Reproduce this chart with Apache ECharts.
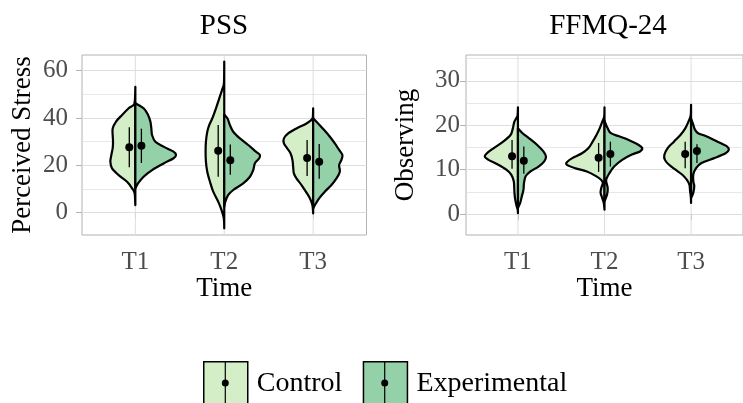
<!DOCTYPE html>
<html>
<head>
<meta charset="utf-8">
<script src="https://cdn.jsdelivr.net/npm/echarts@6/dist/echarts.min.js"></script>
<style>html,body{margin:0;padding:0;background:#fff;}#c{width:743px;height:403px;}</style>
</head>
<body>
<div id="c"></div>
<script>
// ---------- DATA ----------
const times = ['T1', 'T2', 'T3'];
const groups = ['Control', 'Experimental'];
const panelTitles = ['PSS', 'FFMQ-24'];
const yNames = ['Perceived Stress', 'Observing'];
const pssTicks = [0, 20, 40, 60];
const pssMinor = [10, 30, 50];
const ffmqTicks = [0, 10, 20, 30];
const ffmqMinor = [5, 15, 25, 35];

// violin half profiles: [value, half-width in category units]
const pssControlViolin = [
  [[3.2,0],[8.2,0.008],[10.3,0.037],[13.1,0.093],[15.9,0.188],[18.7,0.262],[21.5,0.281],[24.4,0.270],[27.2,0.255],[30,0.251],[32.8,0.255],[35.6,0.255],[38.5,0.217],[41.3,0.149],[44.1,0.075],[46.2,0.01],[53.2,0]],
  [[-6.6,0],[-2.4,0.005],[1.1,0.030],[4.6,0.067],[8.9,0.124],[13.1,0.161],[17.3,0.191],[21.5,0.206],[25.8,0.210],[30,0.206],[34.2,0.191],[37,0.169],[39.8,0.135],[44.1,0.093],[48.3,0.056],[52.5,0.019],[55,0.003],[63.8,0]],
  [[-0.3,0],[3.2,0.008],[6.1,0.037],[8.9,0.082],[11.7,0.131],[14.5,0.188],[16.6,0.217],[19.4,0.225],[22.3,0.233],[25.1,0.255],[27.2,0.292],[29.3,0.329],[31.4,0.329],[33.5,0.281],[35.6,0.188],[37.7,0.075],[39.9,0.005],[44.1,0]]
];
const pssExperimentalViolin = [
  [[10.3,0],[12.4,0.030],[15.2,0.093],[18,0.188],[20.8,0.318],[23,0.430],[24.4,0.457],[25.8,0.430],[27.9,0.318],[30,0.225],[32.8,0.188],[35.6,0.180],[38.5,0.169],[41.3,0.143],[44.1,0.093],[46.2,0]],
  [[2.5,0],[4.6,0.011],[7.5,0.045],[9.6,0.101],[12.4,0.213],[15.2,0.289],[18,0.326],[20.9,0.345],[23,0.393],[24.4,0.401],[25.8,0.356],[28.6,0.270],[31.4,0.176],[34.2,0.101],[37,0.064],[39.8,0.037],[41.5,0]],
  [[1.8,0],[3.2,0.019],[6.1,0.067],[8.9,0.131],[11.7,0.206],[14.5,0.262],[17.3,0.300],[20.1,0.292],[22.3,0.318],[24.4,0.329],[26.5,0.292],[29.3,0.244],[32.1,0.188],[34.9,0.124],[37.7,0.056],[39.9,0]]
];
const ffmqControlViolin = [
  [[0.2,0],[1.0,0.003],[2.1,0.019],[3.6,0.034],[5.1,0.041],[7.4,0.048],[8.9,0.078],[10,0.134],[11.1,0.227],[12.2,0.339],[12.9,0.383],[13.7,0.358],[14.8,0.283],[16.3,0.171],[17.8,0.086],[19.3,0.059],[20.8,0.041],[22.2,0.005],[24,0]],
  [[1.0,0],[2.5,0.008],[3.6,0.026],[4.8,0.045],[5.9,0.037],[7.0,0.019],[7.7,0.037],[8.5,0.093],[9.6,0.204],[10.3,0.335],[11.1,0.436],[11.8,0.428],[12.6,0.372],[13.7,0.260],[14.8,0.187],[16.3,0.137],[17.8,0.093],[19.3,0.056],[20.8,0.026],[22,0.003],[24,0]],
  [[2.5,0],[4,0.003],[5.1,0.011],[6.6,0.019],[7.7,0.048],[8.9,0.104],[10,0.179],[11.1,0.254],[12.2,0.302],[13.3,0.309],[14.8,0.272],[16.3,0.198],[17.8,0.123],[19.3,0.067],[20.8,0.030],[22.3,0.003],[24.6,0]]
];
const ffmqExperimentalViolin = [
  [[1.4,0],[2.5,0.026],[4,0.045],[5.5,0.064],[7,0.070],[8.5,0.089],[9.6,0.145],[10.7,0.238],[11.8,0.302],[12.9,0.324],[14.1,0.294],[15.6,0.220],[17.1,0.126],[18.2,0.053],[19.3,0]],
  [[2.9,0],[4.4,0.030],[5.9,0.037],[7.4,0.019],[8.1,0.026],[9.2,0.056],[10.7,0.112],[12.2,0.204],[13.4,0.316],[14.1,0.410],[14.8,0.436],[15.6,0.391],[16.7,0.279],[17.5,0.168],[18.2,0.075],[19.3,0.037],[21,0]],
  [[3.6,0],[4.8,0.026],[6.3,0.037],[7.4,0.026],[8.9,0.026],[10.3,0.056],[11.5,0.120],[12.6,0.268],[13.7,0.399],[14.5,0.436],[15.2,0.417],[16.3,0.305],[17.5,0.175],[18.2,0.082],[19,0.045],[20.1,0.026],[21.5,0]]
];

// means with interval (low / high)
const pssControlMean = [27.7, 26.2, 23.1];
const pssControlLow = [19.2, 15.2, 15.5];
const pssControlHigh = [36.1, 37.0, 30.7];
const pssExperimentalMean = [28.3, 22.2, 21.5];
const pssExperimentalLow = [21.0, 16.0, 14.4];
const pssExperimentalHigh = [35.5, 28.8, 29.0];
const ffmqControlMean = [13.0, 12.7, 13.5];
const ffmqControlLow = [10.2, 9.5, 10.3];
const ffmqControlHigh = [16.7, 16.0, 16.3];
const ffmqExperimentalMean = [12.0, 13.5, 14.2];
const ffmqExperimentalLow = [9.1, 10.7, 11.5];
const ffmqExperimentalHigh = [15.2, 16.3, 15.7];

// axis ranges
const pssRange = [-9.4, 66.6];
const ffmqRange = [-4.7, 35.8];

// ---------- STYLE ----------
const FONT = "'Liberation Serif', 'DejaVu Serif', serif";
const COL = { Control: '#d4eec7', Experimental: '#94d1a8' };
const DODGE = 0.068;
const GRID_COL = '#dedede';
const BORDER_COL = '#b3b3b3';

function smoothPath(pts, cxPx, side) {
  const clampX = x => side < 0 ? Math.min(x, cxPx) : Math.max(x, cxPx);
  let d = 'M' + pts[0][0] + ',' + pts[0][1];
  for (let i = 0; i < pts.length - 1; i++) {
    const p0 = pts[i - 1] || pts[i], p1 = pts[i], p2 = pts[i + 1], p3 = pts[i + 2] || pts[i + 1];
    const c1x = clampX(p1[0] + (p2[0] - p0[0]) / 6), c1y = p1[1] + (p2[1] - p0[1]) / 6;
    const c2x = clampX(p2[0] - (p3[0] - p1[0]) / 6), c2y = p2[1] - (p3[1] - p1[1]) / 6;
    d += ' C' + c1x + ',' + c1y + ' ' + c2x + ',' + c2y + ' ' + p2[0] + ',' + p2[1];
  }
  return d + ' Z';
}

function violinSeries(name, profiles, side, panel) {
  return {
    type: 'custom', name: name, xAxisIndex: panel, yAxisIndex: panel * 2,
    itemStyle: { color: COL[name] }, z: 2, silent: true,
    data: profiles.map((p, i) => [i + 1, p[0][0], p[p.length - 1][0]]),
    encode: { x: 0, y: [1, 2] },
    renderItem: function (params, api) {
      const prof = profiles[params.dataIndex];
      const cx = api.value(0);
      const cxPx = api.coord([cx, 0])[0];
      const pts = prof.map(([v, w]) => api.coord([cx + side * w, v]));
      return {
        type: 'path',
        shape: { pathData: smoothPath(pts, cxPx, side) },
        style: { fill: COL[name], stroke: '#000', lineWidth: 2.2, lineJoin: 'round' }
      };
    }
  };
}

function rangeSeries(name, mean, low, high, side, panel) {
  return {
    type: 'custom', name: name + ' mean', xAxisIndex: panel, yAxisIndex: panel * 2, z: 5, silent: true,
    data: times.map((t, i) => [i + 1, mean[i], low[i], high[i]]),
    encode: { x: 0, y: [1, 2, 3] },
    renderItem: function (params, api) {
      const x = api.value(0) + side * DODGE;
      const pm = api.coord([x, api.value(1)]);
      const pl = api.coord([x, api.value(2)]);
      const ph = api.coord([x, api.value(3)]);
      return {
        type: 'group', children: [
          { type: 'line', shape: { x1: pl[0], y1: pl[1], x2: ph[0], y2: ph[1] }, style: { stroke: '#000', lineWidth: 1.3 } },
          { type: 'circle', shape: { cx: pm[0], cy: pm[1], r: 4 }, style: { fill: '#000' } }
        ]
      };
    }
  };
}

// vertical grid lines at each category
function vGridSeries(panel, range) {
  return {
    type: 'custom', name: 'vgrid' + panel, xAxisIndex: panel, yAxisIndex: panel * 2, z: 1, silent: true,
    data: times.map((t, i) => [i + 1, range[0], range[1]]),
    encode: { x: 0, y: [1, 2] },
    renderItem: function (params, api) {
      const a = api.coord([api.value(0), api.value(1)]);
      const b = api.coord([api.value(0), api.value(2)]);
      return { type: 'line', shape: { x1: a[0], y1: a[1], x2: b[0], y2: b[1] }, style: { stroke: GRID_COL, lineWidth: 1 } };
    }
  };
}

function xAxis(panel) {
  return {
    type: 'value', gridIndex: panel, min: 0.4, max: 3.6,
    axisLine: { show: false },
    axisTick: { show: true, customValues: [1, 2, 3], length: 6, lineStyle: { color: BORDER_COL, width: 1 } },
    axisLabel: { customValues: [1, 2, 3], formatter: v => times[Math.round(v) - 1], fontFamily: FONT, fontSize: 25, color: '#4d4d4d', margin: 15 },
    splitLine: { show: false },
    name: 'Time', nameLocation: 'middle', nameGap: 40,
    nameTextStyle: { fontFamily: FONT, fontSize: 27, color: '#000' }
  };
}
function yMain(panel, range, ticks, margin, nameGap) {
  return {
    type: 'value', gridIndex: panel, min: range[0], max: range[1], position: 'left',
    axisLine: { show: false },
    axisTick: { show: true, customValues: ticks, length: 6, lineStyle: { color: BORDER_COL, width: 1 } },
    axisLabel: { customValues: ticks, fontFamily: FONT, fontSize: 25, color: '#4d4d4d', margin: margin },
    splitLine: { show: true, lineStyle: { color: GRID_COL, width: 1 } },
    name: yNames[panel], nameLocation: 'middle', nameGap: nameGap,
    nameTextStyle: { fontFamily: FONT, fontSize: 27, color: '#000' }
  };
}
function yMinor(panel, range, ticks) {
  return {
    type: 'value', gridIndex: panel, min: range[0], max: range[1], position: 'right',
    axisLine: { show: false },
    axisTick: { show: false, customValues: ticks },
    axisLabel: { show: false, customValues: ticks },
    splitLine: { show: true, lineStyle: { color: GRID_COL, width: 0.7 } }
  };
}

const legendBase = {
  icon: 'rect', itemWidth: 44, itemHeight: 44, top: 361, padding: 0, selectedMode: false,
  itemStyle: { borderColor: '#000', borderWidth: 1.5 },
  textStyle: { fontFamily: FONT, fontSize: 28, color: '#000', padding: [0, 0, 0, 4] }
};

const option = {
  animation: false,
  backgroundColor: '#fff',
  title: [
    { text: panelTitles[0], left: 224, top: 12, textAlign: 'center', padding: 0, textStyle: { fontFamily: FONT, fontSize: 29, fontWeight: 'normal', color: '#000' } },
    { text: panelTitles[1], left: 608, top: 12, textAlign: 'center', padding: 0, textStyle: { fontFamily: FONT, fontSize: 29, fontWeight: 'normal', color: '#000' } }
  ],
  grid: [
    { left: 82, top: 55, width: 284.5, height: 180, show: true, borderColor: BORDER_COL, borderWidth: 1, backgroundColor: '#fff' },
    { left: 466, top: 55, width: 285, height: 180, show: true, borderColor: BORDER_COL, borderWidth: 1, backgroundColor: '#fff' }
  ],
  xAxis: [xAxis(0), xAxis(1)],
  yAxis: [
    yMain(0, pssRange, pssTicks, 14, 46),
    yMinor(0, pssRange, pssMinor),
    yMain(1, ffmqRange, ffmqTicks, 6, 47),
    yMinor(1, ffmqRange, ffmqMinor)
  ],
  legend: [
    Object.assign({}, legendBase, { data: [groups[0]], left: 203 }),
    Object.assign({}, legendBase, { data: [groups[1]], left: 362.7 })
  ],
  series: [
    vGridSeries(0, pssRange),
    vGridSeries(1, ffmqRange),
    violinSeries('Control', pssControlViolin, -1, 0),
    violinSeries('Experimental', pssExperimentalViolin, 1, 0),
    violinSeries('Control', ffmqControlViolin, -1, 1),
    violinSeries('Experimental', ffmqExperimentalViolin, 1, 1),
    rangeSeries('Control', pssControlMean, pssControlLow, pssControlHigh, -1, 0),
    rangeSeries('Experimental', pssExperimentalMean, pssExperimentalLow, pssExperimentalHigh, 1, 0),
    rangeSeries('Control', ffmqControlMean, ffmqControlLow, ffmqControlHigh, -1, 1),
    rangeSeries('Experimental', ffmqExperimentalMean, ffmqExperimentalLow, ffmqExperimentalHigh, 1, 1)
  ],
  graphic: [
    { type: 'line', z: 100, shape: { x1: 225.3, y1: 361, x2: 225.3, y2: 405 }, style: { stroke: '#000', lineWidth: 1.2 } },
    { type: 'circle', z: 100, shape: { cx: 225.3, cy: 383, r: 3.5 }, style: { fill: '#000' } },
    { type: 'line', z: 100, shape: { x1: 384.7, y1: 361, x2: 384.7, y2: 405 }, style: { stroke: '#000', lineWidth: 1.2 } },
    { type: 'circle', z: 100, shape: { cx: 384.7, cy: 383, r: 3.5 }, style: { fill: '#000' } }
  ]
};

const chart = echarts.init(document.getElementById('c'), null, { renderer: 'canvas' });
chart.setOption(option);
</script>
</body>
</html>
